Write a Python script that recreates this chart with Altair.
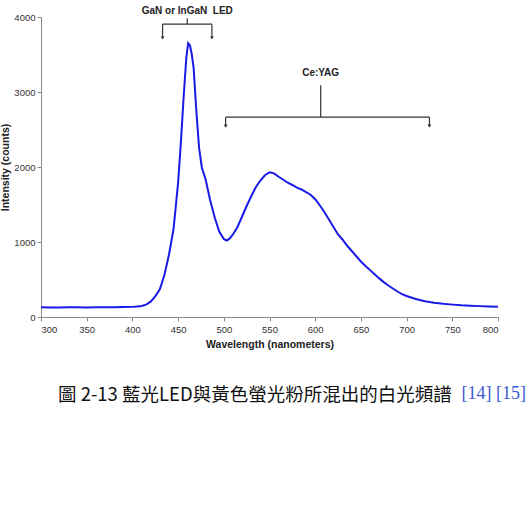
import altair as alt
import pandas as pd

wavelength = [300, 310, 320, 330, 340, 350, 360, 370, 380, 390, 400, 405, 410, 415, 420,
              425, 430, 435, 440, 445, 450, 453, 456, 459, 461, 463, 465, 467, 470, 473,
              476, 480, 485, 490, 495, 500, 503, 506, 510, 515, 520, 525, 530, 535, 540,
              545, 550, 555, 560, 565, 570, 575, 580, 585, 590, 595, 600, 605, 610, 615,
              620, 625, 630, 635, 640, 645, 650, 655, 660, 665, 670, 675, 680, 685, 690,
              695, 700, 710, 720, 730, 740, 750, 760, 770, 780, 790, 800]
intensity = [130, 128, 127, 129, 131, 128, 130, 129, 131, 133, 135, 140, 148, 165, 205,
             275, 370, 560, 830, 1170, 1790, 2320, 2920, 3460, 3650, 3620, 3500, 3320, 2740, 2250,
             1990, 1840, 1560, 1330, 1140, 1040, 1020, 1040, 1100, 1200, 1340, 1480, 1610, 1730, 1820,
             1890, 1930, 1915, 1870, 1830, 1790, 1760, 1725, 1700, 1665, 1630, 1570, 1490, 1400, 1300,
             1200, 1100, 1030, 950, 880, 810, 740, 680, 625, 570, 515, 465, 420, 380, 340,
             305, 280, 240, 210, 190, 176, 165, 156, 150, 145, 141, 138]

spec = pd.DataFrame({"wl": wavelength, "I": intensity})

# annotation brackets (data coordinates)
lab_text = ["GaN or InGaN\u00a0\u00a0LED", "Ce:YAG"]
lab_x = [460, 606]
lab_y = [4085, 3255]

h_x = [433, 502]
h_x2 = [487, 725]
h_y = [3905, 2665]

v_x = [460, 606]
v_y = [3905, 2665]
v_y2 = [3985, 3090]

arr_x = [433, 487, 502, 725]
arr_top = [3905, 3905, 2665, 2665]
arr_bot = [3720, 3720, 2545, 2545]

caption_main = "圖 2-13 藍光LED與黃色螢光粉所混出的白光頻譜"
caption_ref = "[14] [15]"

xs = alt.Scale(domain=[300, 800], nice=False)
ys = alt.Scale(domain=[0, 4000], nice=False)

axis_common = dict(domainColor="#8a8a8a", tickColor="#8a8a8a", labelColor="#333333",
                   labelFont="Liberation Sans", labelFontSize=9.5, titleFont="Liberation Sans",
                   titleFontSize=10.5, titleFontWeight="bold", titleColor="#222222",
                   grid=False, tickSize=4, format="d")

line = alt.Chart(spec).mark_line(color="#1a1ae6", strokeWidth=2).encode(
    x=alt.X("wl:Q", scale=xs, title="Wavelength (nanometers)",
            axis=alt.Axis(values=list(range(300, 801, 50)), labelPadding=3, titlePadding=6, **axis_common)),
    y=alt.Y("I:Q", scale=ys, title="Intensity (counts)",
            axis=alt.Axis(values=list(range(0, 4001, 500)), labelPadding=2, titlePadding=3, **axis_common)),
)

labels = alt.Chart(pd.DataFrame({"t": lab_text, "x": lab_x, "y": lab_y})).mark_text(
    font="Liberation Sans", fontSize=10, fontWeight="bold", color="#222222", baseline="middle"
).encode(x=alt.X("x:Q", scale=xs), y=alt.Y("y:Q", scale=ys), text="t:N")

hrule = alt.Chart(pd.DataFrame({"x": h_x, "x2": h_x2, "y": h_y})).mark_rule(
    color="#333333", strokeWidth=1.2
).encode(x=alt.X("x:Q", scale=xs), x2="x2:Q", y=alt.Y("y:Q", scale=ys))

vrule = alt.Chart(pd.DataFrame({"x": v_x, "y": v_y, "y2": v_y2})).mark_rule(
    color="#333333", strokeWidth=1.2
).encode(x=alt.X("x:Q", scale=xs), y=alt.Y("y:Q", scale=ys), y2="y2:Q")

arrows_df = pd.DataFrame({"x": arr_x, "y": arr_top, "y2": arr_bot})
arule = alt.Chart(arrows_df).mark_rule(color="#333333", strokeWidth=1.2).encode(
    x=alt.X("x:Q", scale=xs), y=alt.Y("y:Q", scale=ys), y2="y2:Q")
heads = alt.Chart(arrows_df).mark_point(
    shape="triangle-down", filled=True, color="#333333", size=14, opacity=1
).encode(x=alt.X("x:Q", scale=xs), y=alt.Y("y2:Q", scale=ys))

caption1 = alt.Chart(pd.DataFrame({"t": [caption_main]})).mark_text(
    font="Noto Sans CJK TC", fontSize=18.5, color="#111111", align="left", baseline="middle"
).encode(x=alt.value(17), y=alt.value(378), text="t:N")

caption2 = alt.Chart(pd.DataFrame({"t": [caption_ref]})).mark_text(
    font="Liberation Serif", fontSize=18, color="#3b5bd6", align="right", baseline="middle"
).encode(x=alt.value(485), y=alt.value(377), text="t:N")

chart = alt.layer(line, hrule, vrule, arule, heads, labels, caption1, caption2).properties(
    width=457, height=300,
    padding={"left": 41, "top": 17, "right": 30, "bottom": 206},
    autosize=alt.AutoSizeParams(type="none"),
    background="white",
).configure_view(stroke=None)

chart.save("out.html", embed_options={"renderer": "svg", "actions": False})
